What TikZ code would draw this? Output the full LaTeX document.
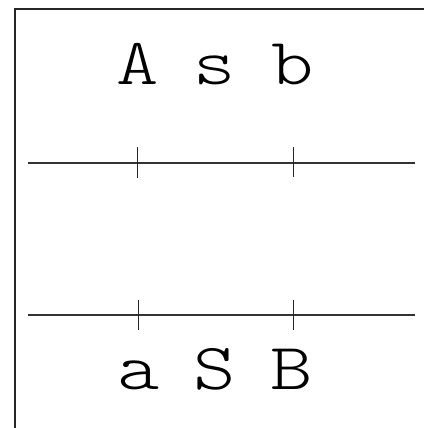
\documentclass[tikz,border=0pt]{standalone}
\usepackage{fontspec}
\setmonofont[FakeStretch=1.22]{Latin Modern Mono Light}
\begin{document}
\begin{tikzpicture}[x=1pt,y=1pt,
  frame/.style={line width=1.4pt,black!85},
  rail/.style={line width=2pt,black!80},
  tick/.style={line width=0.9pt,black!85},
  letter/.style={inner sep=0pt,anchor=base,font=\ttfamily\fontsize{66}{66}\selectfont}]
\useasboundingbox (0,0) rectangle (424,428);
% frame
\coordinate (fbl) at (15,0);
\coordinate (ftl) at (15,419);
\coordinate (ftr) at (424,419);
\draw[frame] (fbl) -- (ftl) -- (ftr);
% upper rail
\coordinate (u1) at (28,265);
\coordinate (u2) at (415,265);
\draw[rail] (u1) -- (u2);
\coordinate (ut1a) at (137,281); \coordinate (ut1b) at (137,250);
\coordinate (ut2a) at (293,281); \coordinate (ut2b) at (293,251);
\draw[tick] (ut1a) -- (ut1b);
\draw[tick] (ut2a) -- (ut2b);
% lower rail
\coordinate (l1) at (28,113);
\coordinate (l2) at (415,113);
\draw[rail] (l1) -- (l2);
\coordinate (lt1a) at (138,128); \coordinate (lt1b) at (138,98);
\coordinate (lt2a) at (293,128); \coordinate (lt2b) at (293,98);
\draw[tick] (lt1a) -- (lt1b);
\draw[tick] (lt2a) -- (lt2b);
% letters
\node[letter] (A) at (138,343) {A};
\node[letter] (s) at (215,343) {s};
\node[letter] (b) at (293,343) {b};
\node[letter] (a) at (139,38) {a};
\node[letter] (S) at (215,38) {S};
\node[letter] (B) at (292,38) {B};
\end{tikzpicture}
\end{document}
